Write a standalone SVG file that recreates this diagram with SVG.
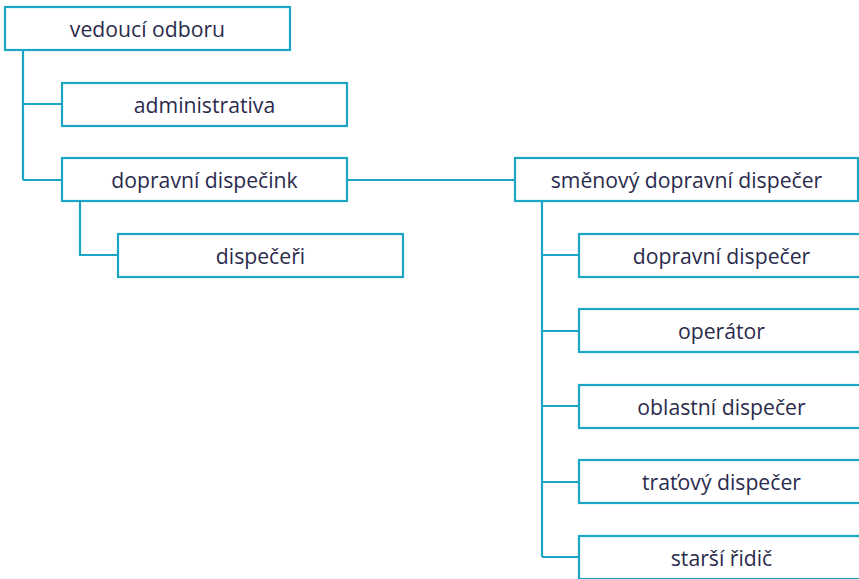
<svg xmlns="http://www.w3.org/2000/svg" width="859" height="579" viewBox="0 0 859 579">
<style>
.box{fill:#fff;stroke:#1ba6c6;stroke-width:2.2}
.lbl{font-family:"Open Sans","Noto Sans",sans-serif;font-size:21.2px;fill:#2b2b4d;text-anchor:middle}
.con{fill:none;stroke:#1ba6c6;stroke-width:2.2}
</style>
<rect width="859" height="579" fill="#fff"/>
<g id="connectors">
<path class="con" d="M23 50V180M23 104H62M23 180H62"/>
<path class="con" d="M80 201V255H118"/>
<path class="con" d="M347 180H515"/>
<path class="con" d="M542 201V557M542 255H579M542 331H579M542 406H579M542 482H579M542 557H579"/>
</g>
<g id="n1"><rect class="box" x="5" y="7" width="285" height="43"/><text class="lbl" x="147.5" y="37">vedoucí odboru</text></g>
<g id="n2"><rect class="box" x="62" y="83" width="285" height="43"/><text class="lbl" x="204.5" y="113">administrativa</text></g>
<g id="n3"><rect class="box" x="62" y="158" width="285" height="43"/><text class="lbl" x="204.5" y="188">dopravní dispečink</text></g>
<g id="n4"><rect class="box" x="118" y="234" width="285" height="43"/><text class="lbl" x="260.5" y="264">dispečeři</text></g>
<g id="n5"><rect class="box" x="515" y="158" width="343" height="43"/><text class="lbl" x="686.5" y="188">směnový dopravní dispečer</text></g>
<g id="n6"><rect class="box" x="579" y="234" width="285" height="43"/><text class="lbl" x="721.5" y="264">dopravní dispečer</text></g>
<g id="n7"><rect class="box" x="579" y="309" width="285" height="43"/><text class="lbl" x="721.5" y="339">operátor</text></g>
<g id="n8"><rect class="box" x="579" y="385" width="285" height="43"/><text class="lbl" x="721.5" y="415">oblastní dispečer</text></g>
<g id="n9"><rect class="box" x="579" y="460" width="285" height="43"/><text class="lbl" x="721.5" y="490">traťový dispečer</text></g>
<g id="n10"><rect class="box" x="579" y="536" width="285" height="43"/><text class="lbl" x="721.5" y="566">starší řidič</text></g>
</svg>
